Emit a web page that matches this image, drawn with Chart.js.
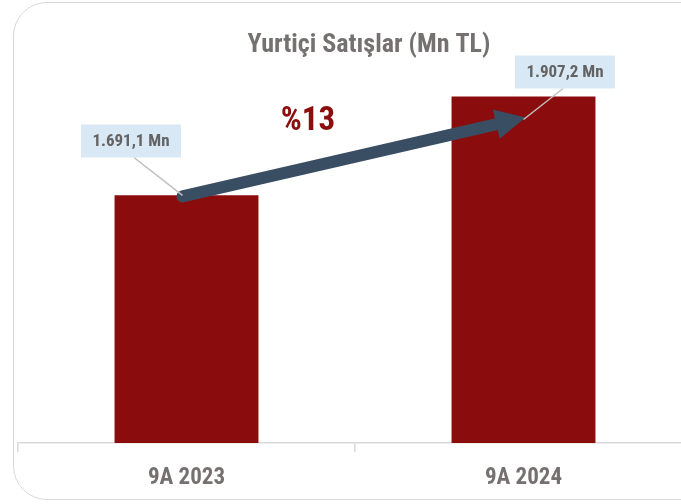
<!DOCTYPE html>
<html>
<head>
<meta charset="utf-8">
<script src="https://cdn.jsdelivr.net/npm/chart.js@4"></script>
<style>
  html, body { margin: 0; padding: 0; background: #fff; overflow: hidden; }
  .wrap { position: relative; width: 681px; height: 504px; overflow: hidden; }
  .frame { position: absolute; left: 13px; top: 2px; width: 720px; height: 498px;
           border: 1.5px solid #d9d9d9; border-radius: 34px; box-sizing: border-box; }
  canvas { position: absolute; left: 0; top: 0; }
</style>
</head>
<body>
<div class="wrap">
  <div class="frame"></div>
  <canvas id="myChart" width="710" height="504"></canvas>
</div>
<script>
const categories = ["9A 2023", "9A 2024"]
const sales = [1691.1, 1907.2]
const valueLabels = ["1.691,1 Mn", "1.907,2 Mn"]
const growthLabel = "%13"
const chartTitle = "Yurtiçi Satışlar (Mn TL)"

const FONT = "'Liberation Sans Narrow', 'Roboto Condensed', Roboto, sans-serif"

// draws title, value callouts and the growth arrow on top of the bars
const overlay = {
  id: 'overlay',
  afterDatasetsDraw(chart) {
    const ctx = chart.ctx
    const bars = chart.getDatasetMeta(0).data
    ctx.save()

    ctx.fillStyle = '#767171'
    ctx.font = "bold 26px " + FONT
    ctx.textAlign = 'center'
    ctx.textBaseline = 'middle'
    ctx.fillText(chartTitle, 369, 45)

    // arrow from first bar to second bar
    const x1 = bars[0].x - 4, y1 = bars[0].y + 1
    const x2 = bars[1].x + 2, y2 = bars[1].y + 21
    const ang = Math.atan2(y2 - y1, x2 - x1)
    const headLen = 30, headW = 15
    const bx = x2 - headLen * Math.cos(ang), by = y2 - headLen * Math.sin(ang)
    ctx.strokeStyle = '#3a4e63'
    ctx.fillStyle = '#3a4e63'
    ctx.lineWidth = 12
    ctx.lineCap = 'round'
    ctx.beginPath()
    ctx.moveTo(x1, y1)
    ctx.lineTo(bx + 4 * Math.cos(ang), by + 4 * Math.sin(ang))
    ctx.stroke()
    ctx.beginPath()
    ctx.moveTo(x2, y2)
    ctx.lineTo(bx + headW * Math.sin(ang), by - headW * Math.cos(ang))
    ctx.lineTo(bx - headW * Math.sin(ang), by + headW * Math.cos(ang))
    ctx.closePath()
    ctx.fill()

    // callouts
    const boxes = [
      { cx: 131, cy: 141, ax: bars[0].x - 4, ay: bars[0].y },
      { cx: 565, cy: 72, ax: bars[1].x, ay: bars[1].y + 23 }
    ]
    ctx.font = "bold 17px " + FONT
    boxes.forEach((b, i) => {
      const w = 100, h = 33
      ctx.strokeStyle = '#bfbfbf'
      ctx.lineWidth = 1.5
      ctx.lineCap = 'butt'
      ctx.beginPath()
      ctx.moveTo(b.cx + (i === 0 ? 3 : -2), b.cy + h / 2)
      ctx.lineTo(b.ax, b.ay)
      ctx.stroke()
      ctx.fillStyle = '#d9e8f5'
      ctx.fillRect(b.cx - w / 2, b.cy - h / 2, w, h)
      ctx.fillStyle = '#636363'
      ctx.fillText(valueLabels[i], b.cx, b.cy + 1)
    })

    ctx.fillStyle = '#8b0d0d'
    ctx.font = "bold 33px " + FONT
    ctx.fillText(growthLabel, 308, 122)
    ctx.restore()
  }
}

const ctx = document.getElementById('myChart')
const myChart = new Chart(ctx, {
  type: 'bar',
  data: {
    labels: categories,
    datasets: [{
      data: sales,
      backgroundColor: '#8b0c0c',
      categoryPercentage: 1,
      barPercentage: 0.427
    }]
  },
  options: {
    responsive: false,
    animation: false,
    layout: { padding: { left: 18, right: 18, top: 54, bottom: 0 } },
    plugins: {
      legend: { display: false },
      tooltip: { enabled: false }
    },
    scales: {
      x: {
        offset: true,
        afterFit: (axis) => { axis.height = 61 },
        border: { display: true, color: '#d9d9d9', width: 1.5 },
        grid: { display: true, drawOnChartArea: false, color: '#d9d9d9', tickLength: 9, offset: true, lineWidth: 1.5 },
        ticks: { color: '#767171', padding: 12, font: { family: FONT, size: 23, weight: 'bold' } }
      },
      y: {
        display: false,
        min: 1150,
        max: 2000
      }
    }
  },
  plugins: [overlay]
})
</script>
</body>
</html>
